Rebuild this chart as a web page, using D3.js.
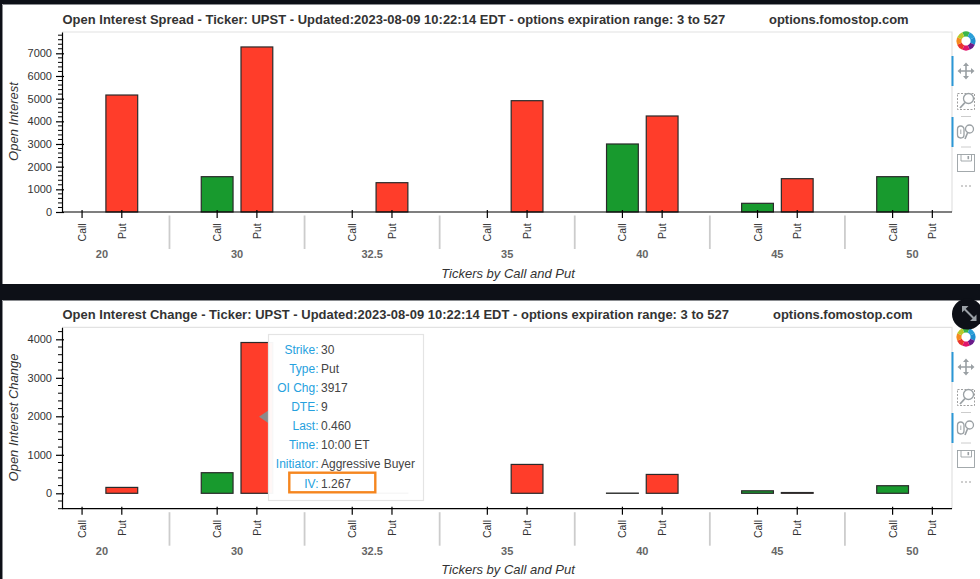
<!DOCTYPE html>
<html>
<head>
<meta charset="utf-8">
<style type="text/css">
    html, body { margin: 0; padding: 0; background: #0d1017; overflow: hidden; }
    svg { display: block; font-family: "Liberation Sans", Arial, sans-serif; }
    .domain { stroke: #000; stroke-width: 1.2; }
    .tick line { stroke: #000; stroke-width: 1.2; }
    .tick text { fill: #333; font-size: 11px; }
</style>
</head>
<body>
<svg width="980" height="579"></svg>
<script src="https://cdn.jsdelivr.net/npm/d3@7"></script>
<script type="text/javascript">

    const strikes = ["20", "30", "32.5", "35", "40", "45", "50"];
    const types = ["Call", "Put"];

    // open interest, read per strike: [call, put]
    const openInterest = [
        [0, 5160], [1558, 7280], [0, 1293], [0, 4910],
        [3000, 4235], [383, 1470], [1558, 0]
    ];
    // open interest change, same order
    const oiChange = [
        [0, 153], [535, 3917], [0, 6], [0, 750],
        [5, 490], [65, 20], [197, 0]
    ];

    const oiTicks = [0, 1000, 2000, 3000, 4000, 5000, 6000, 7000];
    const changeTicks = [0, 1000, 2000, 3000, 4000];

    const tooltipLabels = ["Strike:", "Type:", "OI Chg:", "DTE:", "Last:", "Time:", "Initiator:", "IV:"];
    const tooltipValues = ["30", "Put", "3917", "9", "0.460", "10:00 ET", "Aggressive Buyer", "1.267"];

    const suffix = " - Ticker: UPST - Updated:2023-08-09 10:22:14 EDT - options expiration range: 3 to 527";
    const site = "options.fomostop.com";

    const colors = { Call: "#189a2e", Put: "#ff3d2a" };
    const logoColors = ["#3bb54a", "#2a9fd8", "#1f8fd0", "#6a1b8a", "#e0156c", "#e8352c", "#f58a1f", "#b8c92a"];

    const svg = d3.select("svg");

    function panel(p) {
        const g = svg.append("g");
        const left = 62, right = 952;

        // white card
        g.append("rect").attr("x", 2).attr("y", p.cardTop).attr("width", 978).attr("height", p.cardBottom - p.cardTop)
            .attr("fill", "#fff");
        g.append("path").attr("d", `M2.5,${p.cardBottom} V${p.cardTop + 0.5} H980`)
            .attr("fill", "none").attr("stroke", "#8a8c90");

        const x0 = d3.scaleBand().domain(strikes).range([left + 0.2, right + 0.2]).paddingInner(1.4 / 3.4).paddingOuter(0);
        const x1 = d3.scaleBand().domain(types).range([0, x0.bandwidth()]).paddingInner(0.2).paddingOuter(0.1);
        const y = d3.scaleLinear().domain(p.yDomain).range([p.bottom, p.top]);

        // plot outline
        g.append("path").attr("d", `M${left},${p.top} H${right} V${p.bottom}`)
            .attr("fill", "none").attr("stroke", "#e2e2e2").attr("stroke-width", 1.2);

        // bars
        const rows = [];
        strikes.forEach((s, i) => types.forEach((t, j) => {
            if (p.values[i][j] > 0) rows.push({ strike: s, type: t, value: p.values[i][j] });
        }));
        g.selectAll("rect.bar").data(rows).enter().append("rect")
            .attr("class", "bar")
            .attr("x", d => x0(d.strike) + x1(d.type))
            .attr("width", x1.bandwidth())
            .attr("y", d => y(d.value))
            .attr("height", d => y(0) - y(d.value))
            .attr("fill", d => colors[d.type])
            .attr("stroke", "#2a2a2a")
            .attr("stroke-width", 1.2);

        // y axis with minor ticks
        const yAxis = g.append("g").attr("transform", `translate(${left},0)`);
        const minor = d3.range(p.minorStart, p.yDomain[1], 200).filter(v => !p.ticks.includes(v));
        yAxis.selectAll("line.minor").data(minor).enter().append("line")
            .attr("class", "minor").attr("x1", -4).attr("x2", 0)
            .attr("y1", d => y(d)).attr("y2", d => y(d))
            .attr("stroke", "#000").attr("stroke-width", 1);
        yAxis.call(d3.axisLeft(y).tickValues(p.ticks).tickFormat(d3.format("d")).tickSize(6).tickSizeOuter(0).tickPadding(4));
        yAxis.selectAll(".tick line").attr("x2", -6).attr("x1", 2);

        // x axis, one tick per call/put
        const xAxis = g.append("g").attr("transform", `translate(0,${p.bottom})`);
        xAxis.append("line").attr("x1", left).attr("x2", right).attr("stroke", "#000").attr("stroke-width", 1.2);
        strikes.forEach(s => {
            types.forEach(t => {
                const cx = x0(s) + x1(t) + x1.bandwidth() / 2;
                xAxis.append("line").attr("x1", cx).attr("x2", cx).attr("y1", -2).attr("y2", 6)
                    .attr("stroke", "#000").attr("stroke-width", 1.2);
                xAxis.append("text").attr("transform", `translate(${cx + 4},11.3) rotate(-90)`)
                    .attr("text-anchor", "end").attr("font-size", 10.5).attr("fill", "#333").text(t);
            });
            xAxis.append("text").attr("x", x0(s) + x0.bandwidth() / 2).attr("y", 46)
                .attr("text-anchor", "middle").attr("font-size", 11).attr("font-weight", "bold")
                .attr("fill", "#666").text(s);
        });
        // separators between the strike groups
        xAxis.selectAll("line.sep").data(strikes.slice(1)).enter().append("line")
            .attr("class", "sep")
            .attr("x1", d => x0(d) - x0.step() * (1.4 / 3.4) / 2)
            .attr("x2", d => x0(d) - x0.step() * (1.4 / 3.4) / 2)
            .attr("y1", 3.5).attr("y2", 37)
            .attr("stroke", "#ccc").attr("stroke-width", 1.8);

        // titles
        g.append("text").attr("x", 62.5).attr("y", p.top - 8).attr("font-size", 12.96).attr("font-weight", "bold")
            .attr("textLength", p.titleWidth).attr("fill", "#333").text(p.name + suffix);
        g.append("text").attr("x", p.siteX).attr("y", p.top - 8).attr("font-size", 12.96).attr("font-weight", "bold")
            .attr("fill", "#333").text(site);
        g.append("text").attr("transform", `translate(17.5,${p.yTitleY}) rotate(-90)`)
            .attr("text-anchor", "middle").attr("font-size", 13).attr("font-style", "italic")
            .attr("fill", "#333").text(p.yLabel);
        g.append("text").attr("x", 508).attr("y", p.bottom + 65.5)
            .attr("text-anchor", "middle").attr("font-size", 13).attr("font-style", "italic")
            .attr("fill", "#333").text("Tickers by Call and Put");

        toolbar(p.toolY);
    }

    // bokeh style toolbar on the right edge
    function toolbar(t) {
        const g = svg.append("g").attr("transform", `translate(966,${t})`);
        const arc = d3.arc().innerRadius(4.6).outerRadius(9.6);
        logoColors.forEach((c, i) => {
            g.append("path")
                .attr("d", arc({ startAngle: (i - 0.5) * Math.PI / 4, endAngle: (i + 0.5) * Math.PI / 4 }))
                .attr("fill", c);
        });
        g.append("rect").attr("x", -14.5).attr("y", 15).attr("width", 2).attr("height", 30).attr("fill", "#2b97d6");
        g.append("rect").attr("x", -14.5).attr("y", 76).attr("width", 2).attr("height", 30).attr("fill", "#2b97d6");

        const icons = g.append("g").attr("fill", "none").attr("stroke", "#9aa0a4").attr("stroke-width", 1.6);
        // pan
        icons.append("path").attr("d", "M-7,30 H7 M0,23 V37");
        icons.append("path").attr("d", "M-8.5,30 L-5,27 V33 Z M8.5,30 L5,27 V33 Z M0,21.5 L-3,25 H3 Z M0,38.5 L-3,35 H3 Z")
            .attr("fill", "#9aa0a4").attr("stroke", "none");
        // box zoom
        icons.append("rect").attr("x", -8.5).attr("y", 52.5).attr("width", 17).attr("height", 16)
            .attr("stroke-width", 0.7).attr("stroke", "#777").attr("stroke-dasharray", "2,1.5");
        icons.append("circle").attr("cx", 2.5).attr("cy", 57.5).attr("r", 5).attr("fill", "#fff").attr("stroke-width", 1.3);
        icons.append("path").attr("d", "M-1,61.5 L-6,67").attr("stroke-width", 1.8);
        icons.append("line").attr("x1", -5).attr("x2", 5).attr("y1", 75.5).attr("y2", 75.5).attr("stroke", "#ccc").attr("stroke-width", 1);
        // wheel zoom
        icons.append("rect").attr("x", -8.5).attr("y", 85).attr("width", 6.5).attr("height", 12).attr("rx", 3.2).attr("stroke-width", 1.3);
        icons.append("path").attr("d", "M-5.2,88.5 V93").attr("stroke-width", 0.9);
        icons.append("circle").attr("cx", 3.5).attr("cy", 88).attr("r", 4).attr("stroke-width", 1.3);
        icons.append("path").attr("d", "M1.5,92 L-1,98").attr("stroke-width", 1.6);
        icons.append("line").attr("x1", -5).attr("x2", 5).attr("y1", 106).attr("y2", 106).attr("stroke", "#ccc").attr("stroke-width", 1);
        // save
        icons.append("rect").attr("x", -8.5).attr("y", 113.5).attr("width", 17).attr("height", 17).attr("stroke-width", 0.9);
        icons.append("path").attr("d", "M-5,113.5 V120 H5.5 V113.5").attr("stroke-width", 0.9);
        icons.append("rect").attr("x", 1.5).attr("y", 115).attr("width", 1.6).attr("height", 3.2).attr("fill", "#9aa0a4").attr("stroke", "none");
        // more
        [-4, 0, 4].forEach(dx => {
            g.append("circle").attr("cx", dx).attr("cy", 145).attr("r", 0.7).attr("fill", "#777");
        });
    }

    panel({
        name: "Open Interest Spread", yLabel: "Open Interest", values: openInterest, ticks: oiTicks,
        cardTop: 4, cardBottom: 284, top: 32, bottom: 212, yDomain: [0, 7940], minorStart: 0,
        siteX: 769, yTitleY: 121.5, toolY: 41, titleWidth: 662.8
    });
    panel({
        name: "Open Interest Change", yLabel: "Open Interest Change", values: oiChange, ticks: changeTicks,
        cardTop: 300, cardBottom: 579, top: 327.3, bottom: 508.7, yDomain: [-400, 4312], minorStart: -400,
        siteX: 773, yTitleY: 417.5, toolY: 337, titleWidth: 666.5
    });

    // hover tooltip over the put bar at strike 30
    const tip = svg.append("g");
    tip.append("path").attr("d", "M259,416.7 L269,410 V423.4 Z").attr("fill", "#8a8a8a");
    tip.append("rect").attr("x", 268.5).attr("y", 334.5).attr("width", 155).attr("height", 166)
        .attr("fill", "#fff").attr("fill-opacity", 0.96).attr("stroke", "#e4e4e4").attr("stroke-width", 1.2);
    const rowY = d3.scalePoint().domain(tooltipLabels).range([353.5, 487.5]);
    tip.selectAll("text.lab").data(tooltipLabels).enter().append("text")
        .attr("class", "lab").attr("x", 318.5).attr("y", d => rowY(d))
        .attr("text-anchor", "end").attr("font-size", 12).attr("fill", "#26a1de").text(d => d);
    tip.selectAll("text.val").data(tooltipValues).enter().append("text")
        .attr("class", "val").attr("x", 321).attr("y", (d, i) => rowY(tooltipLabels[i]))
        .attr("font-size", 12).attr("fill", "#444").text(d => d);
    tip.append("rect").attr("x", 289.3).attr("y", 472.7).attr("width", 86).attr("height", 19.6)
        .attr("fill", "none").attr("stroke", "#f5861f").attr("stroke-width", 2.4);

    // expand button of the screenshot, sits over the second toolbar
    const expand = svg.append("g").attr("transform", "translate(967.5,314)");
    expand.append("circle").attr("r", 15.5).attr("fill", "#0d1017");
    expand.append("path").attr("d", "M-3,-5 L6,4").attr("stroke", "#9aa0a6").attr("stroke-width", 2);
    expand.append("path").attr("d", "M-5.5,-8 H1 L-5.5,-1.5 Z M9,7 H2.5 L9,0.5 Z").attr("fill", "#9aa0a6");

</script>
</body>
</html>
